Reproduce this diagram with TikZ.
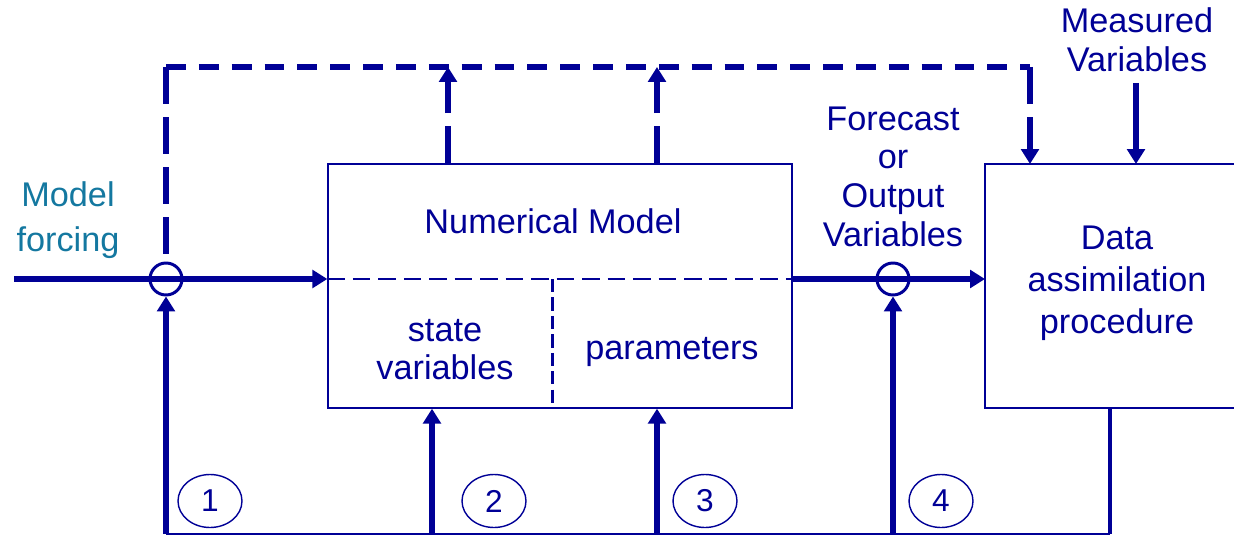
\documentclass[tikz,border=0pt]{standalone}
\usepackage{fontspec}
\setmainfont{Liberation Sans}
\usetikzlibrary{arrows.meta,shapes.geometric}
\definecolor{navy}{RGB}{0,0,150}
\definecolor{forcingteal}{RGB}{20,120,160}

\begin{document}
\begin{tikzpicture}[x=0.02cm, y=-0.02cm,
  txt/.style={navy, align=center, inner sep=0pt, font=\fontsize{19.5}{22}\selectfont},
  box/.style={draw=navy, line width=0.8pt},
  knot/.style={circle, draw=navy, line width=1.7pt, minimum size=0.64cm, inner sep=0pt},
  tag/.style={ellipse, draw=navy, line width=0.8pt, minimum width=1.28cm, minimum height=1.06cm,
    inner sep=0pt, navy, font=\fontsize{18}{18}\selectfont},
  tip/.style={-{Triangle[length=8.5pt, width=10pt]}},
  flow/.style={navy, line width=3pt},
  loopv/.style={flow, dash pattern=on 21pt off 7.5pt},
  looph/.style={flow, dash pattern=on 11.3pt off 7.4pt},
  divider/.style={navy, line width=1.7pt, dash pattern=on 10pt off 4.5pt}]
  \useasboundingbox (0,0) rectangle (1234,537);
  % the numerical model, split into state variables and parameters
  \node[box, minimum width=9.28cm, minimum height=4.88cm, inner sep=0pt] (model) at (560,286) {};
  \node[txt] (modeltitle) at (553,221) {Numerical Model};
  \node[txt] (states) at (445,349.5) {state\\variables};
  \node[txt] (params) at (672,352) {parameters};
  \coordinate (splitW) at (model.west |- 0,279);
  \coordinate (splitE) at (model.east |- 0,279);
  \coordinate (splitN) at (552,279);
  \draw[divider] (splitW) -- (splitE);
  \draw[divider, dash pattern=on 7.5pt off 3pt] (splitN) -- (splitN |- model.south);
  % the data assimilation box, cut at the right edge
  \coordinate (assimNW) at (985,164);
  \coordinate (assimSW) at (985,408);
  \coordinate (assimNE) at (1234,164);
  \coordinate (assimSE) at (1234,408);
  \draw[box] (assimNE) -- (assimNW) -- (assimSW) -- (assimSE);
  \node[txt, font=\fontsize{19.5}{24}\selectfont] (assim) at (1117,283.5) {Data\\assimilation\\procedure};
  % inputs and outputs
  \node[txt, forcingteal, font=\fontsize{19.5}{25.5}\selectfont] (forcing) at (68,220.5) {Model\\forcing};
  \node[txt] (forecast) at (893,176.5) {Forecast\\or\\Output\\Variables};
  \node[txt] (measured) at (1137,40) {Measured\\Variables};
  \node[knot] (inknot) at (166,279) {};
  \node[knot] (outknot) at (893,279) {};
  \coordinate (forcingin) at (14,279);
  \draw[flow, tip] (forcingin) -- (splitW);
  \draw[flow, tip] (splitE) -- (assimNW |- outknot);
  \coordinate (measin) at (1136,83);
  \draw[flow, tip] (measin) -- (measin |- assimNW);
  % dashed feedback loop over the model
  \coordinate (loopNW) at (166,67);
  \coordinate (loopNE) at (1030,67);
  \coordinate (stateup) at (448,67);
  \coordinate (paramup) at (657,67);
  \draw[loopv] (loopNW) -- (inknot.north);
  \draw[looph] (loopNW) -- (loopNE);
  \draw[loopv, tip] (loopNE) -- (loopNE |- assimNW);
  \draw[loopv, tip] (model.north -| stateup) -- (stateup);
  \draw[loopv, tip] (model.north -| paramup) -- (paramup);
  % the four update routes from below
  \coordinate (upd1) at (166,534);
  \coordinate (upd2) at (432,534);
  \coordinate (upd3) at (657,534);
  \coordinate (upd4) at (893,534);
  \coordinate (updsrc) at (1110,534);
  \draw[navy, line width=1.2pt] (upd1) -- (updsrc);
  \draw[navy, line width=2pt] (updsrc) -- (updsrc |- assimSW);
  \draw[flow, tip] (upd1) -- (inknot.south);
  \draw[flow, tip] (upd2) -- (upd2 |- model.south);
  \draw[flow, tip] (upd3) -- (upd3 |- model.south);
  \draw[flow, tip] (upd4) -- (outknot.south);
  \node[tag] (tag1) at (210,501) {1};
  \node[tag] (tag2) at (494,501) {2};
  \node[tag] (tag3) at (705,501) {3};
  \node[tag] (tag4) at (941,501) {4};
\end{tikzpicture}
\end{document}
